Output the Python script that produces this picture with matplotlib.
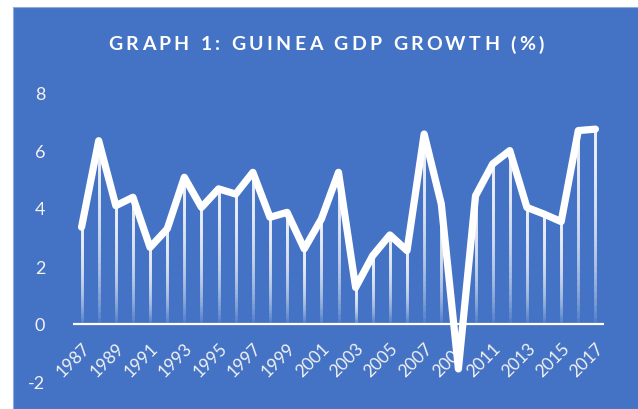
import numpy as np
import matplotlib.pyplot as plt
from matplotlib.collections import LineCollection
from matplotlib.patches import Rectangle

plt.rcParams['font.family'] = ['Lato', 'DejaVu Sans']

years = list(range(1987, 2018))
growth = [3.34, 6.32, 4.08, 4.37, 2.64, 3.28, 5.06, 4.02, 4.66, 4.48,
          5.23, 3.68, 3.85, 2.59, 3.62, 5.23, 1.26, 2.36, 3.07, 2.53,
          6.55, 4.14, -1.55, 4.42, 5.52, 5.98, 4.02, 3.79, 3.53, 6.67, 6.72]
tick_years = years[::2]
y_ticks = [-2, 0, 2, 4, 6, 8]
title = 'GRAPH 1: GUINEA GDP GROWTH (%)'

bg = '#4472C4'

fig = plt.figure(figsize=(6.38, 4.10), dpi=100)
fig.patch.set_facecolor('white')
fig.patches.append(Rectangle((13 / 638, 0), 1, (410 - 8) / 410, transform=fig.transFigure,
                             facecolor=bg, edgecolor='#8FAADC', linewidth=0.8, zorder=-5))

ax = fig.add_axes([73 / 638, (410 - 383) / 410, 531 / 638, 290 / 410])
ax.set_facecolor('none')
ax.set_xlim(1986.5, 2017.5)
ax.set_ylim(-2, 8)

# drop lines fading toward zero: overlapping strokes that all end at the point
segs = []
n = 30
for x, v in zip(years, growth):
    if v <= 0:
        continue
    for start in np.linspace(0, v, n, endpoint=False):
        segs.append([(x, start), (x, v)])
ax.add_collection(LineCollection(segs, colors=(1, 1, 1, 0.085), linewidths=2.0,
                                 zorder=2, capstyle='butt'))

ax.axhline(0, color='white', lw=1.6, zorder=1)
ax.plot(years, growth, color='white', lw=5.2, solid_joinstyle='round',
        solid_capstyle='round', zorder=3, clip_on=False)

for s in ax.spines.values():
    s.set_visible(False)
ax.spines['bottom'].set_position(('data', 0))
ax.set_yticks(y_ticks)
ax.set_yticklabels([str(t) for t in y_ticks], fontsize=13, color='#F2F2F2')
ax.tick_params(axis='y', length=0, pad=20)
ax.set_xticks(tick_years)
ax.set_xticklabels([str(t) for t in tick_years], fontsize=12.5, color='#F2F2F2',
                   rotation=45, ha='right', rotation_mode='anchor')
ax.tick_params(axis='x', length=0, pad=11)

# title with letter spacing, one glyph at a time
renderer = fig.canvas.get_renderer()
tkw = dict(color='white', fontsize=14, fontweight='bold', va='center', ha='left')
probe = fig.text(0, 0, '', **tkw)

def width(s):
    probe.set_text(s)
    return probe.get_window_extent(renderer).width

spacing = 3.3
lefts = [width(title[:i + 1]) - width(title[i]) + i * spacing for i in range(len(title))]
total = lefts[-1] + width(title[-1])
probe.remove()
x0 = 326 - total / 2
for i, ch in enumerate(title):
    if ch != ' ':
        fig.text((x0 + lefts[i]) / 638, 1 - 45 / 410, ch, **tkw)

fig.savefig('out.png', dpi=100, facecolor=fig.get_facecolor())
